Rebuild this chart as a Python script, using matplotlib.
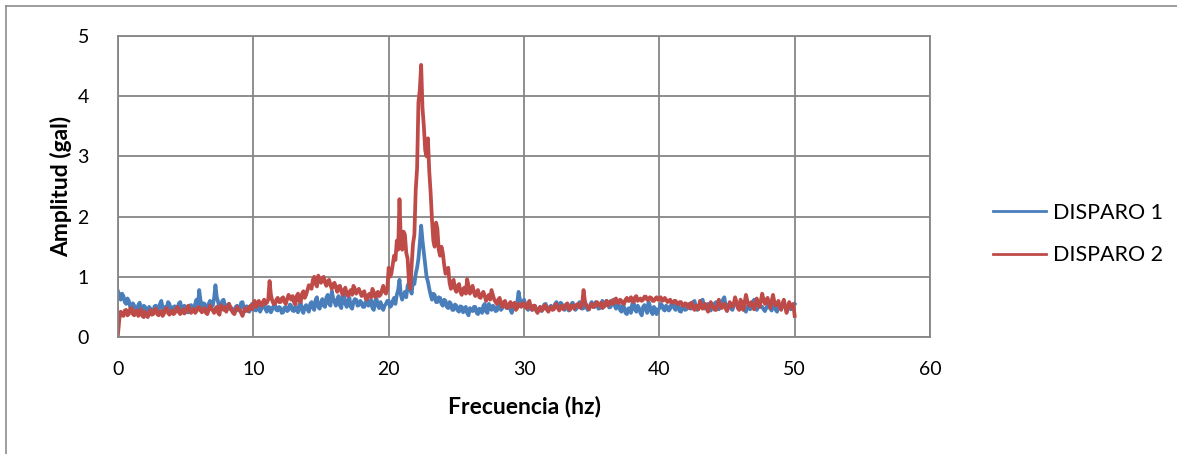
import numpy as np
import matplotlib
matplotlib.use("Agg")
import matplotlib.pyplot as plt
from matplotlib.lines import Line2D

freq = np.linspace(0, 50, 501)

disparo1 = [
    0.76, 0.70, 0.62, 0.72, 0.68, 0.58, 0.55, 0.64, 0.60, 0.50,
    0.48, 0.56, 0.52, 0.44, 0.45, 0.53, 0.57, 0.46, 0.44, 0.52,
    0.50, 0.42, 0.40, 0.50, 0.47, 0.38, 0.42, 0.51, 0.52, 0.43,
    0.45, 0.55, 0.60, 0.48, 0.43, 0.50, 0.49, 0.58, 0.55, 0.44,
    0.42, 0.50, 0.51, 0.43, 0.47, 0.56, 0.58, 0.46, 0.44, 0.52,
    0.50, 0.41, 0.41, 0.52, 0.53, 0.45, 0.46, 0.55, 0.62, 0.50,
    0.78, 0.60, 0.48, 0.56, 0.55, 0.44, 0.45, 0.55, 0.60, 0.50,
    0.52, 0.64, 0.86, 0.66, 0.58, 0.48, 0.50, 0.60, 0.62, 0.52,
    0.45, 0.53, 0.55, 0.46, 0.48, 0.42, 0.40, 0.50, 0.52, 0.44,
    0.46, 0.57, 0.58, 0.48, 0.43, 0.51, 0.50, 0.42, 0.47, 0.55,
    0.52, 0.45, 0.44, 0.53, 0.50, 0.42, 0.47, 0.56, 0.55, 0.46,
    0.42, 0.50, 0.49, 0.41, 0.46, 0.52, 0.53, 0.45, 0.44, 0.50,
    0.48, 0.40, 0.41, 0.49, 0.50, 0.43, 0.45, 0.54, 0.52, 0.44,
    0.43, 0.50, 0.47, 0.41, 0.54, 0.57, 0.44, 0.40, 0.50, 0.53,
    0.46, 0.42, 0.55, 0.58, 0.48, 0.45, 0.62, 0.66, 0.50, 0.47,
    0.57, 0.63, 0.52, 0.50, 0.66, 0.70, 0.55, 0.52, 0.76, 0.64,
    0.58, 0.52, 0.63, 0.68, 0.52, 0.48, 0.68, 0.72, 0.55, 0.50,
    0.60, 0.65, 0.50, 0.47, 0.58, 0.63, 0.62, 0.52, 0.53, 0.60,
    0.57, 0.50, 0.50, 0.58, 0.63, 0.52, 0.55, 0.62, 0.48, 0.45,
    0.60, 0.64, 0.52, 0.48, 0.58, 0.50, 0.45, 0.52, 0.55, 0.60,
    0.60, 0.50, 0.52, 0.60, 0.65, 0.55, 0.70, 0.78, 0.95, 0.70,
    0.62, 0.70, 0.75, 0.66, 0.85, 0.90, 0.78, 0.72, 0.95, 0.88,
    1.05, 1.15, 1.30, 1.55, 1.85, 1.60, 1.40, 1.20, 1.00, 0.92,
    0.80, 0.70, 0.62, 0.72, 0.70, 0.58, 0.58, 0.66, 0.65, 0.55,
    0.52, 0.62, 0.60, 0.50, 0.48, 0.58, 0.55, 0.45, 0.45, 0.54,
    0.52, 0.44, 0.42, 0.51, 0.50, 0.41, 0.47, 0.50, 0.40, 0.36,
    0.48, 0.45, 0.43, 0.50, 0.50, 0.40, 0.38, 0.47, 0.46, 0.40,
    0.52, 0.55, 0.42, 0.40, 0.55, 0.50, 0.45, 0.52, 0.50, 0.43,
    0.44, 0.52, 0.53, 0.45, 0.48, 0.56, 0.58, 0.48, 0.50, 0.55,
    0.45, 0.40, 0.55, 0.50, 0.48, 0.57, 0.75, 0.62, 0.52, 0.58,
    0.62, 0.55, 0.48, 0.45, 0.55, 0.52, 0.45, 0.50, 0.52, 0.44,
    0.42, 0.48, 0.50, 0.43, 0.46, 0.54, 0.55, 0.47, 0.44, 0.50,
    0.52, 0.46, 0.47, 0.55, 0.58, 0.49, 0.50, 0.57, 0.55, 0.47,
    0.45, 0.52, 0.52, 0.44, 0.48, 0.55, 0.57, 0.50, 0.45, 0.48,
    0.50, 0.58, 0.56, 0.47, 0.48, 0.55, 0.53, 0.45, 0.46, 0.54,
    0.58, 0.50, 0.50, 0.58, 0.55, 0.47, 0.48, 0.56, 0.60, 0.52,
    0.52, 0.60, 0.57, 0.49, 0.50, 0.58, 0.62, 0.52, 0.47, 0.53,
    0.55, 0.45, 0.42, 0.52, 0.50, 0.40, 0.38, 0.47, 0.48, 0.40,
    0.55, 0.58, 0.45, 0.42, 0.52, 0.48, 0.40, 0.36, 0.50, 0.53,
    0.46, 0.40, 0.58, 0.52, 0.42, 0.38, 0.50, 0.47, 0.38, 0.44,
    0.48, 0.55, 0.53, 0.46, 0.44, 0.52, 0.50, 0.44, 0.47, 0.56,
    0.55, 0.48, 0.45, 0.54, 0.52, 0.43, 0.42, 0.50, 0.50, 0.45,
    0.46, 0.53, 0.55, 0.47, 0.48, 0.58, 0.60, 0.50, 0.45, 0.52,
    0.52, 0.60, 0.62, 0.53, 0.47, 0.52, 0.55, 0.46, 0.44, 0.50,
    0.50, 0.56, 0.58, 0.50, 0.46, 0.52, 0.53, 0.62, 0.66, 0.52,
    0.48, 0.53, 0.55, 0.47, 0.45, 0.52, 0.60, 0.58, 0.50, 0.46,
    0.47, 0.54, 0.56, 0.45, 0.42, 0.50, 0.52, 0.46, 0.48, 0.57,
    0.62, 0.52, 0.45, 0.50, 0.55, 0.50, 0.50, 0.46, 0.43, 0.48,
    0.52, 0.56, 0.47, 0.44, 0.58, 0.55, 0.45, 0.42, 0.53, 0.50,
    0.48, 0.54, 0.60, 0.50, 0.44, 0.48, 0.52, 0.46, 0.47, 0.53,
    0.55,
]

disparo2 = [
    0.05, 0.30, 0.42, 0.38, 0.35, 0.44, 0.45, 0.36, 0.38, 0.47,
    0.48, 0.38, 0.36, 0.43, 0.44, 0.35, 0.40, 0.46, 0.35, 0.33,
    0.42, 0.36, 0.33, 0.40, 0.45, 0.37, 0.38, 0.45, 0.47, 0.38,
    0.36, 0.42, 0.43, 0.35, 0.39, 0.46, 0.48, 0.40, 0.37, 0.41,
    0.44, 0.38, 0.40, 0.47, 0.50, 0.41, 0.38, 0.42, 0.46, 0.39,
    0.42, 0.49, 0.52, 0.43, 0.40, 0.45, 0.47, 0.40, 0.43, 0.48,
    0.50, 0.44, 0.41, 0.46, 0.48, 0.40, 0.38, 0.45, 0.52, 0.47,
    0.44, 0.40, 0.47, 0.50, 0.40, 0.37, 0.53, 0.48, 0.45, 0.50,
    0.42, 0.48, 0.55, 0.50, 0.44, 0.40, 0.38, 0.45, 0.50, 0.46,
    0.45, 0.40, 0.35, 0.42, 0.48, 0.44, 0.43, 0.50, 0.52, 0.46,
    0.55, 0.60, 0.50, 0.53, 0.60, 0.56, 0.52, 0.58, 0.62, 0.55,
    0.57, 0.62, 0.93, 0.70, 0.60, 0.55, 0.55, 0.62, 0.65, 0.58,
    0.58, 0.64, 0.66, 0.58, 0.55, 0.63, 0.70, 0.66, 0.62, 0.68,
    0.58, 0.54, 0.68, 0.72, 0.60, 0.58, 0.72, 0.76, 0.65, 0.70,
    0.78, 0.86, 0.85, 0.80, 0.95, 1.00, 0.88, 0.84, 1.02, 0.95,
    0.90, 0.98, 1.00, 0.90, 0.85, 0.93, 0.95, 0.86, 0.80, 0.88,
    0.90, 0.82, 0.75, 0.84, 0.85, 0.76, 0.70, 0.78, 0.82, 0.72,
    0.68, 0.75, 0.78, 0.70, 0.85, 0.80, 0.72, 0.76, 0.80, 0.74,
    0.68, 0.74, 0.76, 0.64, 0.62, 0.70, 0.72, 0.66, 0.80, 0.74,
    0.66, 0.72, 0.75, 0.68, 0.70, 0.78, 0.85, 0.75, 0.72, 0.80,
    1.15, 1.00, 1.05, 1.20, 1.35, 1.28, 1.60, 1.45, 2.29, 1.60,
    1.45, 1.75, 1.70, 1.40, 1.30, 0.90, 0.80, 1.20, 1.55, 1.70,
    2.45, 2.80, 3.90, 4.10, 4.52, 3.80, 3.50, 3.10, 3.00, 3.30,
    2.75, 2.40, 1.95, 1.60, 1.50, 1.90, 1.80, 1.45, 1.35, 1.50,
    1.40, 1.20, 1.05, 1.10, 1.15, 0.90, 0.80, 0.92, 0.95, 0.80,
    0.75, 0.85, 0.88, 0.75, 0.70, 0.80, 0.82, 0.72, 0.96, 0.85,
    0.72, 0.80, 0.85, 0.74, 0.68, 0.75, 0.78, 0.66, 0.65, 0.72,
    0.75, 0.68, 0.60, 0.66, 0.70, 0.62, 0.78, 0.70, 0.62, 0.58,
    0.55, 0.62, 0.65, 0.55, 0.50, 0.58, 0.60, 0.50, 0.48, 0.55,
    0.58, 0.50, 0.52, 0.57, 0.45, 0.48, 0.55, 0.52, 0.50, 0.56,
    0.56, 0.50, 0.48, 0.55, 0.60, 0.48, 0.45, 0.52, 0.52, 0.44,
    0.40, 0.46, 0.50, 0.44, 0.46, 0.52, 0.53, 0.45, 0.42, 0.48,
    0.50, 0.45, 0.46, 0.53, 0.55, 0.48, 0.44, 0.50, 0.52, 0.46,
    0.48, 0.54, 0.56, 0.48, 0.45, 0.52, 0.53, 0.47, 0.50, 0.54,
    0.55, 0.50, 0.48, 0.56, 0.78, 0.60, 0.52, 0.50, 0.46, 0.52,
    0.55, 0.50, 0.50, 0.56, 0.58, 0.52, 0.52, 0.57, 0.48, 0.50,
    0.56, 0.60, 0.52, 0.55, 0.60, 0.56, 0.55, 0.62, 0.64, 0.57,
    0.57, 0.62, 0.60, 0.56, 0.55, 0.62, 0.65, 0.60, 0.60, 0.66,
    0.62, 0.58, 0.66, 0.68, 0.60, 0.62, 0.64, 0.60, 0.62, 0.67,
    0.67, 0.62, 0.62, 0.66, 0.65, 0.60, 0.60, 0.64, 0.66, 0.62,
    0.63, 0.66, 0.60, 0.61, 0.65, 0.62, 0.58, 0.60, 0.62, 0.57,
    0.57, 0.60, 0.60, 0.55, 0.55, 0.58, 0.58, 0.52, 0.52, 0.56,
    0.55, 0.50, 0.48, 0.56, 0.57, 0.48, 0.45, 0.52, 0.52, 0.46,
    0.60, 0.55, 0.47, 0.50, 0.55, 0.48, 0.42, 0.50, 0.58, 0.52,
    0.50, 0.45, 0.45, 0.55, 0.62, 0.52, 0.48, 0.53, 0.55, 0.47,
    0.43, 0.50, 0.58, 0.52, 0.50, 0.56, 0.66, 0.58, 0.48, 0.45,
    0.62, 0.55, 0.45, 0.58, 0.70, 0.60, 0.52, 0.55, 0.58, 0.50,
    0.46, 0.55, 0.64, 0.56, 0.50, 0.60, 0.72, 0.62, 0.55, 0.62,
    0.65, 0.55, 0.48, 0.60, 0.70, 0.58, 0.52, 0.56, 0.60, 0.50,
    0.45, 0.55, 0.62, 0.50, 0.40, 0.48, 0.58, 0.52, 0.48, 0.55,
    0.35,
]

series_labels = ["DISPARO 1", "DISPARO 2"]
x_ticks = [0, 10, 20, 30, 40, 50, 60]
y_ticks = [0, 1, 2, 3, 4, 5]

plt.rcParams['font.family'] = ['Lato', 'DejaVu Sans']

W, H = 1177, 454
fig = plt.figure(figsize=(W / 100, H / 100), dpi=100)
ax = fig.add_axes([118 / W, 1 - 337 / H, (930 - 118) / W, (337 - 36) / H])

ax.plot(freq, disparo1, color='#4A7EBB', lw=2.7, label=series_labels[0])
ax.plot(freq, disparo2, color='#BE4B48', lw=2.7, label=series_labels[1])

ax.set_xlim(0, 60)
ax.set_ylim(0, 5)
ax.set_xticks(x_ticks)
ax.set_yticks(y_ticks)
ax.tick_params(length=0, labelsize=14, colors='black')
ax.tick_params(axis='x', pad=17)
ax.tick_params(axis='y', pad=21)
ax.grid(True, color='#868686', lw=1.3)
ax.set_axisbelow(True)
for s in ax.spines.values():
    s.set_color('#868686')
    s.set_linewidth(1.3)

ax.set_xlabel('Frecuencia (hz)', fontsize=16.5, fontweight='bold', labelpad=13)
ax.set_ylabel('Amplitud (gal)', fontsize=16.5, fontweight='bold', labelpad=4)

handles = [Line2D([0], [0], color='#4A7EBB', lw=2),
           Line2D([0], [0], color='#BE4B48', lw=2)]
fig.legend(handles, series_labels, loc='center left',
           bbox_to_anchor=(974 / W, 1 - 234 / H), frameon=False,
           fontsize=15.5, handlelength=2.45, handletextpad=0.32,
           labelspacing=1.05)

# chart border
fig.add_artist(Line2D([6 / W, 6 / W], [0, 1 - 6 / H], transform=fig.transFigure, color='#8c8c8c', lw=1.2))
fig.add_artist(Line2D([6 / W, 1], [1 - 6 / H, 1 - 6 / H], transform=fig.transFigure, color='#8c8c8c', lw=1.2))

fig.savefig('out.png', dpi=100)
